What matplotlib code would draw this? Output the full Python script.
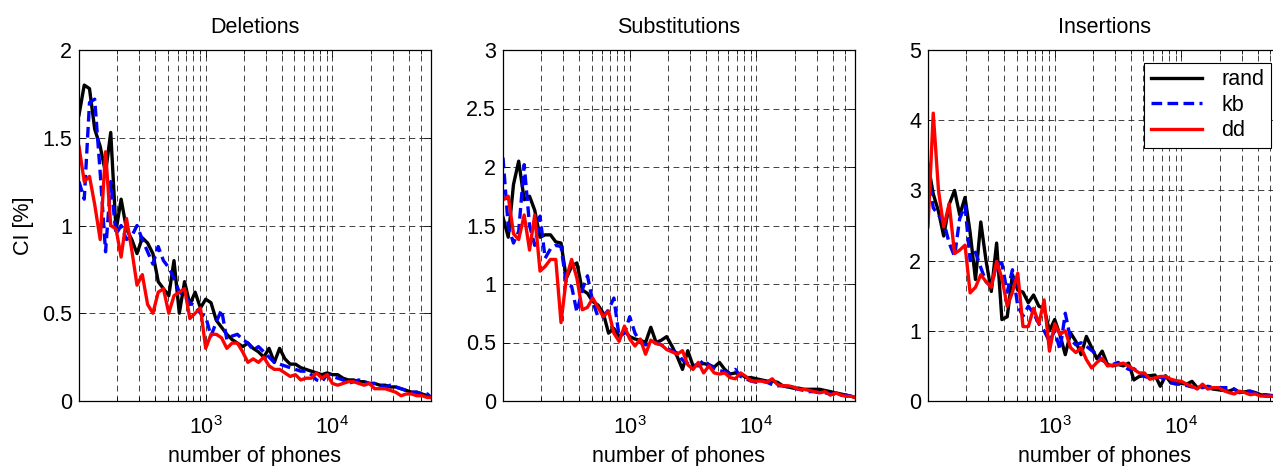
import numpy as np
import matplotlib
matplotlib.use("Agg")
import matplotlib.pyplot as plt
from matplotlib.ticker import FixedLocator, NullFormatter, MultipleLocator

plt.rcParams['font.family'] = ['Liberation Sans', 'DejaVu Sans']
plt.rcParams['mathtext.fontset'] = 'custom'
plt.rcParams['mathtext.rm'] = 'Liberation Sans'
plt.rcParams['mathtext.it'] = 'Liberation Sans'

# number of phones (shared x grid)
phones = [100, 110, 121, 133, 147, 162, 178, 196, 215, 237, 261, 287, 316, 348, 383, 422,
          464, 511, 562, 619, 681, 750, 825, 909, 1000, 1101, 1212, 1334, 1468, 1616, 1778,
          1957, 2154, 2371, 2610, 2873, 3162, 3481, 3831, 4217, 4642, 5109, 5623, 6190, 6813,
          7499, 8254, 9085, 10000, 11007, 12115, 13335, 14678, 16156, 17783, 19573, 21544,
          23714, 26102, 28730, 31623, 34807, 38312, 42170, 46416, 51090, 56234, 60000]

# Deletions
del_rand = [1.63, 1.80, 1.78, 1.55, 1.45, 1.30, 1.53, 0.97, 1.15, 0.98, 0.92, 0.84, 0.93, 0.90,
            0.84, 0.68, 0.64, 0.60, 0.80, 0.50, 0.68, 0.55, 0.62, 0.53, 0.58, 0.56, 0.46, 0.42,
            0.38, 0.35, 0.33, 0.31, 0.33, 0.30, 0.28, 0.25, 0.30, 0.22, 0.30, 0.24, 0.21, 0.21,
            0.19, 0.18, 0.17, 0.16, 0.15, 0.16, 0.15, 0.15, 0.13, 0.12, 0.12, 0.11, 0.11, 0.10,
            0.10, 0.09, 0.09, 0.08, 0.08, 0.07, 0.06, 0.05, 0.05, 0.04, 0.03, 0.02]
del_kb = [1.25, 1.15, 1.70, 1.72, 1.30, 0.85, 1.25, 0.95, 1.00, 0.92, 0.94, 1.00, 0.92, 0.85,
          0.78, 0.88, 0.80, 0.76, 0.70, 0.62, 0.60, 0.56, 0.54, 0.50, 0.48, 0.37, 0.45, 0.52,
          0.35, 0.37, 0.38, 0.35, 0.33, 0.29, 0.31, 0.28, 0.25, 0.22, 0.21, 0.20, 0.19, 0.18,
          0.17, 0.17, 0.15, 0.12, 0.11, 0.15, 0.14, 0.13, 0.12, 0.10, 0.11, 0.12, 0.11, 0.10,
          0.10, 0.09, 0.08, 0.09, 0.08, 0.07, 0.06, 0.05, 0.05, 0.04, 0.04, 0.02]
del_dd = [1.45, 1.25, 1.28, 1.12, 0.92, 1.42, 1.00, 0.98, 0.82, 1.04, 0.86, 0.66, 0.72, 0.55,
          0.50, 0.62, 0.64, 0.50, 0.60, 0.62, 0.64, 0.47, 0.50, 0.53, 0.30, 0.38, 0.38, 0.36,
          0.30, 0.33, 0.33, 0.28, 0.22, 0.24, 0.22, 0.25, 0.20, 0.18, 0.18, 0.16, 0.14, 0.15,
          0.12, 0.13, 0.13, 0.16, 0.13, 0.15, 0.10, 0.09, 0.10, 0.11, 0.11, 0.10, 0.09, 0.10,
          0.07, 0.07, 0.07, 0.06, 0.05, 0.03, 0.04, 0.04, 0.03, 0.03, 0.02, 0.02]

# Substitutions
sub_rand = [1.57, 1.40, 1.85, 2.05, 1.72, 1.75, 1.63, 1.40, 1.42, 1.42, 1.36, 1.35, 1.05, 1.15,
            1.18, 0.95, 0.92, 0.85, 0.82, 0.75, 0.58, 0.62, 0.55, 0.60, 0.55, 0.53, 0.52, 0.50,
            0.63, 0.50, 0.52, 0.55, 0.47, 0.38, 0.27, 0.43, 0.30, 0.31, 0.32, 0.31, 0.29, 0.33,
            0.27, 0.23, 0.24, 0.23, 0.20, 0.20, 0.19, 0.18, 0.17, 0.17, 0.16, 0.13, 0.12, 0.11,
            0.11, 0.10, 0.10, 0.10, 0.10, 0.09, 0.08, 0.07, 0.06, 0.05, 0.04, 0.03]
sub_kb = [2.08, 1.49, 1.35, 1.45, 2.02, 1.50, 1.33, 1.58, 1.22, 1.30, 1.33, 1.32, 1.00, 0.98,
          0.76, 0.95, 1.07, 0.85, 0.72, 0.72, 0.78, 0.88, 0.55, 0.58, 0.72, 0.58, 0.50, 0.48,
          0.49, 0.50, 0.48, 0.45, 0.43, 0.41, 0.35, 0.32, 0.31, 0.30, 0.35, 0.31, 0.28, 0.26,
          0.25, 0.24, 0.27, 0.21, 0.19, 0.17, 0.16, 0.17, 0.16, 0.14, 0.13, 0.13, 0.12, 0.11,
          0.10, 0.09, 0.08, 0.08, 0.07, 0.07, 0.06, 0.06, 0.05, 0.05, 0.04, 0.03]
sub_dd = [1.72, 1.75, 1.43, 1.38, 1.59, 1.29, 1.59, 1.11, 1.15, 1.21, 1.21, 0.67, 1.05, 1.21,
          1.05, 0.78, 0.80, 0.88, 0.80, 0.72, 0.77, 0.58, 0.51, 0.64, 0.53, 0.47, 0.53, 0.40,
          0.52, 0.49, 0.48, 0.44, 0.42, 0.40, 0.43, 0.31, 0.27, 0.33, 0.24, 0.30, 0.24, 0.23,
          0.24, 0.20, 0.19, 0.24, 0.21, 0.17, 0.17, 0.17, 0.16, 0.19, 0.14, 0.13, 0.13, 0.12,
          0.10, 0.10, 0.09, 0.08, 0.07, 0.08, 0.05, 0.07, 0.05, 0.04, 0.04, 0.03]

# Insertions
ins_rand = [3.38, 2.95, 2.70, 2.35, 2.80, 3.00, 2.65, 2.90, 2.40, 1.73, 2.55, 2.00, 1.56, 2.25,
            1.16, 1.20, 1.80, 1.58, 1.55, 1.40, 1.51, 1.35, 1.32, 1.00, 1.16, 0.94, 0.66, 0.97,
            0.85, 0.66, 0.92, 0.76, 0.60, 0.71, 0.52, 0.50, 0.52, 0.50, 0.54, 0.30, 0.35, 0.36,
            0.36, 0.37, 0.21, 0.36, 0.26, 0.26, 0.25, 0.24, 0.28, 0.19, 0.21, 0.19, 0.17, 0.16,
            0.15, 0.14, 0.17, 0.12, 0.13, 0.14, 0.12, 0.09, 0.07, 0.07, 0.07, 0.06]
ins_kb = [3.30, 2.75, 2.65, 2.55, 2.25, 2.06, 2.60, 2.78, 2.00, 2.12, 1.90, 1.70, 1.63, 1.95,
          1.96, 1.55, 1.87, 1.35, 1.21, 1.35, 1.25, 1.10, 1.00, 0.85, 1.00, 0.73, 1.25, 0.88,
          0.80, 0.83, 0.78, 0.72, 0.66, 0.58, 0.54, 0.52, 0.55, 0.50, 0.45, 0.46, 0.40, 0.35,
          0.33, 0.33, 0.34, 0.30, 0.26, 0.24, 0.24, 0.22, 0.20, 0.19, 0.19, 0.21, 0.19, 0.19,
          0.19, 0.19, 0.17, 0.12, 0.14, 0.14, 0.11, 0.09, 0.09, 0.08, 0.07, 0.06]
ins_dd = [2.48, 4.10, 3.00, 2.48, 2.81, 2.10, 2.15, 2.22, 1.54, 1.62, 1.80, 1.70, 1.62, 1.99,
          1.75, 1.35, 1.55, 1.82, 1.06, 1.06, 1.32, 1.10, 1.44, 0.71, 1.10, 0.95, 1.00, 0.76,
          0.69, 0.76, 0.59, 0.47, 0.55, 0.61, 0.50, 0.51, 0.52, 0.54, 0.50, 0.45, 0.40, 0.40,
          0.31, 0.33, 0.35, 0.35, 0.31, 0.29, 0.28, 0.24, 0.21, 0.17, 0.24, 0.17, 0.19, 0.19,
          0.15, 0.12, 0.10, 0.14, 0.12, 0.09, 0.10, 0.07, 0.07, 0.07, 0.05, 0.04]

titles = ["Deletions", "Substitutions", "Insertions"]
ymaxes = [2, 3, 5]
ysteps = [0.5, 0.5, 1]
series = [(del_rand, del_kb, del_dd), (sub_rand, sub_kb, sub_dd), (ins_rand, ins_kb, ins_dd)]
names = ["rand", "kb", "dd"]

major_x = [1000, 10000]
minor_x = [200, 300, 400, 500, 600, 700, 800, 900,
           2000, 3000, 4000, 5000, 6000, 7000, 8000, 9000,
           20000, 30000, 40000, 50000, 60000]

FS = 15.5
W, H = 1273, 466
fig = plt.figure(figsize=(W / 100, H / 100), dpi=100)
lefts = [79, 503, 928]
axes = []
for i in range(3):
    ax = fig.add_axes([lefts[i] / W, 65 / H, 352 / W, 351 / H])
    r, k, d = series[i]
    ax.plot(phones, r, color='black', lw=2.4, label=names[0])
    ax.plot(phones, k, color='blue', lw=2.4, ls=(0, (3.2, 1.6)), label=names[1])
    ax.plot(phones, d, color='red', lw=2.4, label=names[2])
    ax.set_xscale('log')
    ax.set_xlim(100, 60000)
    ax.set_ylim(0, ymaxes[i])
    ax.yaxis.set_major_locator(MultipleLocator(ysteps[i]))
    ax.yaxis.set_major_formatter(plt.FuncFormatter(lambda v, p: ('%g' % v)))
    ax.xaxis.set_major_locator(FixedLocator(major_x))
    ax.xaxis.set_minor_locator(FixedLocator(minor_x))
    ax.xaxis.set_minor_formatter(NullFormatter())
    ax.tick_params(which='both', direction='in', top=True, right=True, labelsize=FS, width=0.6)
    ax.tick_params(which='major', length=5, pad=5)
    ax.tick_params(which='minor', length=3)
    ax.tick_params(axis='x', which='major', pad=11)
    ax.grid(True, which='both', axis='x', color='#222222', lw=0.6, ls=(0, (7, 5)))
    ax.grid(True, which='major', axis='y', color='#222222', lw=0.6, ls=(0, (7, 5)))
    for s in ax.spines.values():
        s.set_linewidth(0.9)
    ax.set_title(titles[i], fontsize=FS, pad=12)
    ax.set_xlabel("number of phones", fontsize=FS, labelpad=5)
    axes.append(ax)

axes[0].set_ylabel("CI [%]", fontsize=FS, labelpad=6)

leg = axes[2].legend(loc='upper right', bbox_to_anchor=(1271 / W, 1 - 63 / H),
                     bbox_transform=fig.transFigure, borderaxespad=0, fancybox=False,
                     framealpha=1, edgecolor='black', fontsize=FS, handlelength=2.4,
                     labelspacing=0.2, handletextpad=0.9, borderpad=0.3)
leg.get_frame().set_linewidth(0.8)

fig.savefig("out.png", dpi=100)
